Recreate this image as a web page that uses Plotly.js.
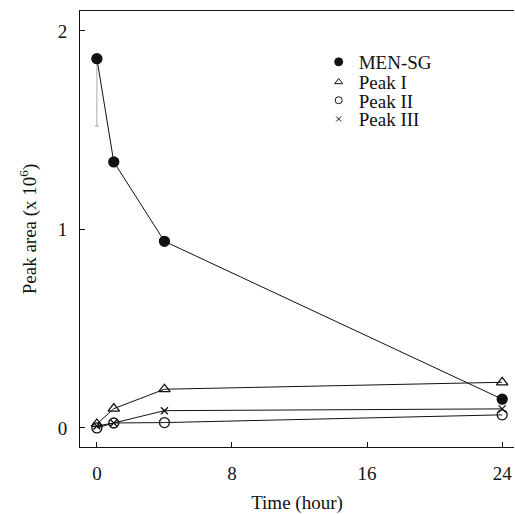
<!DOCTYPE html>
<html><head><meta charset="utf-8">
<script src="https://cdn.plot.ly/plotly-3.0.1.min.js"></script>
<style>html,body{margin:0;padding:0;background:#fff}</style>
</head><body><div id="chart" style="width:515px;height:514px"></div>
<script>
const time = [0, 1, 4, 24];
const menSG = [1.86, 1.34, 0.94, 0.145];
const menSGErrMinus = [0.34, 0, 0, 0];
const peakI = [0.02, 0.097, 0.195, 0.23];
const peakII = [0.0, 0.025, 0.027, 0.066];
const peakIII = [0.01, 0.025, 0.087, 0.096];
const names = ['MEN-SG', 'Peak I', 'Peak II', 'Peak III'];

const fam = 'Liberation Serif, Times New Roman, serif';
const font = {family: fam, color: '#111', size: 19};
const line = {color: '#111', width: 1};

const series = [
  {y: menSG, sym: 'circle', size: 10, lsize: 8, err: menSGErrMinus},
  {y: peakI, sym: 'triangle-up-open', size: 10, lsize: 7},
  {y: peakII, sym: 'circle-open', size: 10, lsize: 7},
  {y: peakIII, sym: 'x-thin-open', size: 7, lsize: 5}
];
const traces = [];
series.forEach((s) => {
  const t = {x: time, y: s.y, mode: 'lines+markers', showlegend: false,
    line: line, marker: {symbol: s.sym, size: s.size, color: '#111', line: {color: '#111', width: 1.3}}};
  if (s.err) t.error_y = {type: 'data', symmetric: false, array: [0,0,0,0], arrayminus: s.err, color: '#aaa', thickness: 1, width: 2};
  traces.push(t);
});
const legendY = [0.883, 0.837, 0.795, 0.752];
const layout = {
  width: 515, height: 514,
  margin: {l: 80, r: 1, t: 11, b: 67},
  paper_bgcolor: '#fff', plot_bgcolor: '#fff',
  font: font,
  showlegend: true,
  xaxis: {range: [-1.0, 24.7], tickvals: [0, 8, 16, 24], ticks: 'inside', ticklen: 5, tickcolor: '#111',
    showline: true, linecolor: '#111', linewidth: 1, mirror: true, showgrid: false, zeroline: false,
    tickfont: font, ticklabelstandoff: 9,
    title: {text: 'Time (hour)', font: font, standoff: 18}},
  yaxis: {range: [-0.096, 2.10], tickvals: [0, 1, 2], ticks: 'inside', ticklen: 5, tickcolor: '#111',
    showline: true, linecolor: '#111', linewidth: 1, showgrid: false, zeroline: false,
    tickfont: font, ticklabelstandoff: 8,
    title: {text: 'Peak area (x 10<sup>6</sup>)', font: font, standoff: 16}}
};
series.forEach((s, i) => {
  const key = i === 0 ? 'legend' : 'legend' + (i + 1);
  traces.push({x: [null], y: [null], mode: 'markers', name: names[i], showlegend: true, legend: key,
    marker: {symbol: s.sym, size: s.lsize, color: '#111', line: {color: '#111', width: 1}}});
  layout[key] = {x: 0.55, y: legendY[i], xanchor: 'left', yanchor: 'middle', font: font,
    bgcolor: 'rgba(0,0,0,0)', borderwidth: 0};
});
Plotly.newPlot('chart', traces, layout, {displayModeBar: false, staticPlot: true});
</script></body></html>
